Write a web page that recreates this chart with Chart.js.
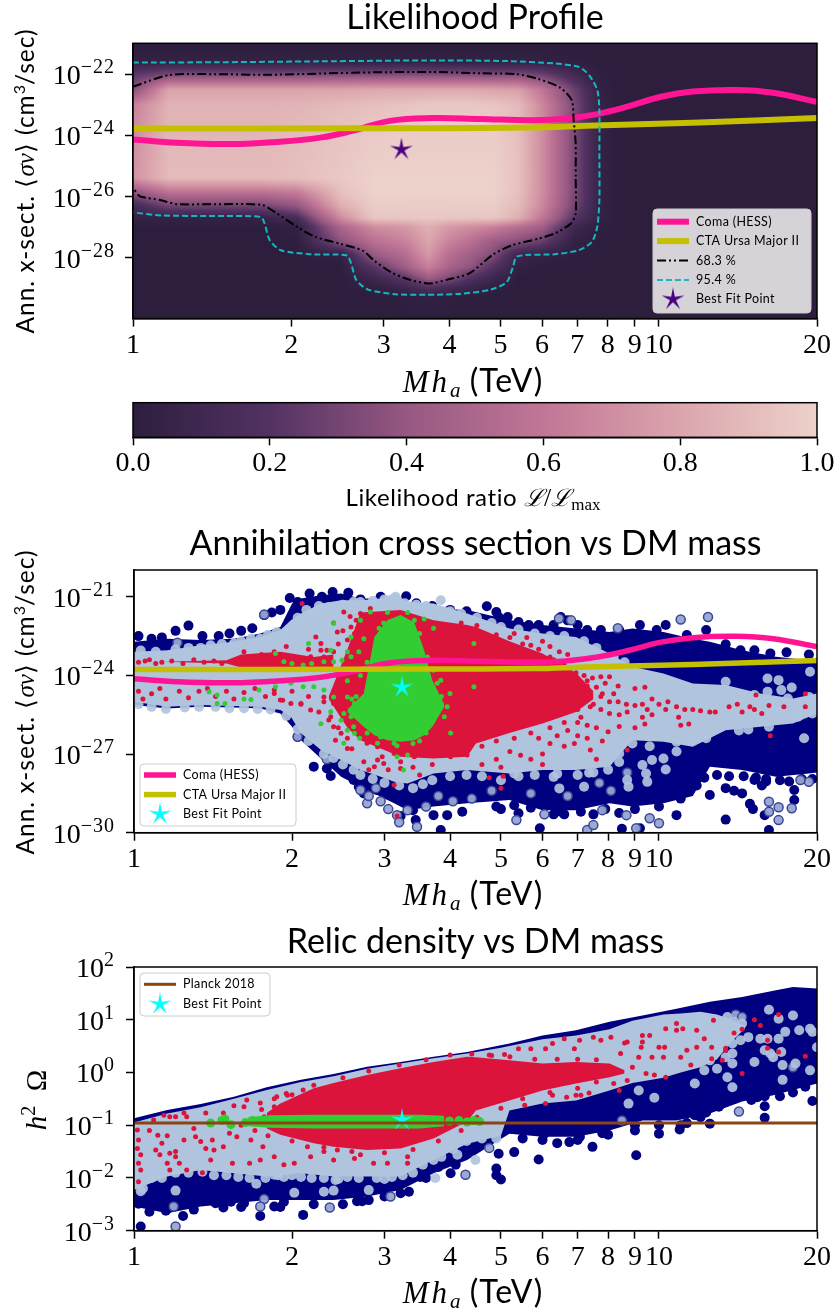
<!DOCTYPE html>
<html lang="en"><head>
<meta charset="UTF-8">
<title>Likelihood Profile</title>
<script src="https://cdn.jsdelivr.net/npm/chart.js"></script>
<style>
  html, body { margin: 0; padding: 0; background: #fff; }
  body { width: 835px; height: 1313px; position: relative; overflow: hidden; }
  canvas { position: absolute; left: 0; display: block; }
</style>
</head>
<body>
<canvas id="profile" width="835" height="402" style="top:0"></canvas>
<canvas id="colorbar" width="835" height="125" style="top:395px"></canvas>
<canvas id="sigma" width="835" height="400" style="top:520px"></canvas>
<canvas id="relic" width="835" height="393" style="top:920px"></canvas>

<script>
// ---- axes
const massTicks = [1, 2, 3, 4, 5, 6, 7, 8, 9, 10, 20];
const profileExpTicks = [-28, -26, -24, -22];
const sigmaExpTicks = [-30, -27, -24, -21];
const relicExpTicks = [-3, -2, -1, 0, 1, 2];
const colorbarTicks = [0, 0.2, 0.4, 0.6, 0.8, 1];

// ---- limit curves (mass in TeV, log10 of <sigma v>)
const comaMass = [1, 1.21, 1.53, 1.88, 2.27, 2.61, 3.08, 3.71, 4.57, 5.77, 6.64, 7.64, 8.78, 10.1, 11.6, 14, 16.5, 20];
const comaExp = [-24.13, -24.24, -24.28, -24.21, -24.07, -23.85, -23.52, -23.43, -23.46, -23.5, -23.45, -23.3, -23.04, -22.73, -22.56, -22.51, -22.6, -22.9];
const ctaMass = [1, 1.8, 3.62, 5.77, 7.29, 11.6, 20];
const ctaExp = [-23.77, -23.77, -23.76, -23.74, -23.68, -23.58, -23.43];
const bestMass = 3.24;
const bestExp = -24.46;
const bestRelic = -0.9;
const planckMass = [1, 20];
const planckRelic = [-0.956, -0.956];

// ---- confidence contours of the profile
const cl68Mass = [1, 1.17, 1.43, 1.8, 2.27, 2.87, 3.71, 4.57, 5.38, 5.91, 6.49, 6.83, 6.89, 6.95, 6.95, 6.95, 6.8, 6.34, 5.91, 5.26, 4.85, 4.36, 3.97, 3.66, 3.38, 3.11, 2.87, 2.74, 2.49, 2.22, 2.05, 1.88, 1.76, 1.43, 1.21, 1.13, 1.03, 1.005];
const cl68Exp = [-22.4, -22.02, -21.99, -22.01, -21.97, -21.93, -21.92, -21.96, -21.99, -22.15, -22.43, -22.84, -23.5, -24.26, -25.36, -26.56, -26.89, -27.21, -27.38, -27.6, -27.89, -28.52, -28.72, -28.85, -28.74, -28.5, -28.09, -27.78, -27.56, -27.32, -26.99, -26.56, -26.28, -26.25, -26.25, -26.12, -25.99, -25.77];
const cl95Mass = [1, 1.43, 2.27, 3.62, 5.14, 6.34, 7.04, 7.37, 7.64, 7.71, 7.71, 7.71, 7.64, 7.46, 7.04, 6.34, 5.38, 5.28, 5.14, 4.79, 4.17, 3.62, 3.15, 2.8, 2.66, 2.6, 2.55, 2.17, 1.91, 1.82, 1.78, 1.75, 1.43, 1.13, 1];
const cl95Exp = [-21.61, -21.6, -21.57, -21.54, -21.56, -21.64, -21.75, -22.02, -22.51, -23.17, -24.48, -26.12, -26.99, -27.49, -27.76, -27.89, -27.96, -28.31, -28.8, -29.05, -29.19, -29.22, -29.2, -29.05, -28.74, -28.2, -27.93, -27.89, -27.76, -27.43, -26.89, -26.67, -26.64, -26.62, -26.52];

// ---- likelihood table: one row per heatExp, one column per heatMass
const heatMass = [1, 1.17, 1.76, 2.05, 2.49, 2.87, 3.3, 3.65, 4, 4.4, 4.85, 5.4, 6, 6.9, 7.7, 8.3, 20];
const heatExp = [-30, -29.3, -29, -28.7, -28.3, -27.9, -27.5, -27, -26.7, -26.3, -25.9, -25.4, -24, -23, -22.5, -22, -21.6, -21.3, -21];
const likelihood = [
  [0, 0, 0, 0, 0, 0, 0, 0, 0, 0, 0, 0, 0, 0, 0, 0, 0],
  [0, 0, 0, 0, 0, 0, .01, .03, .01, 0, 0, 0, 0, 0, 0, 0, 0],
  [0, 0, 0, 0, 0, .02, .09, .18, .12, .07, .02, 0, 0, 0, 0, 0, 0],
  [0, 0, 0, 0, 0, .08, .22, .42, .32, .18, .08, 0, 0, 0, 0, 0, 0],
  [0, 0, 0, 0, 0, .22, .45, .65, .48, .38, .2, .03, 0, 0, 0, 0, 0],
  [0, 0, 0, 0, .04, .42, .55, .75, .55, .45, .34, .08, .05, .01, 0, 0, 0],
  [0, 0, 0, 0, .36, .55, .65, .8, .65, .55, .42, .34, .25, .03, 0, 0, 0],
  [0, 0, 0, .03, .5, .7, .75, .85, .75, .7, .65, .55, .45, .1, .01, 0, 0],
  [.04, .04, .05, .15, .7, .95, .95, .96, .95, .95, .95, .85, .6, .22, .04, 0, 0],
  [.12, .3, .3, .4, .85, .98, .98, .98, .98, .98, .98, .9, .68, .3, .05, 0, 0],
  [.36, .55, .55, .6, .92, 1, 1, 1, 1, 1, 1, .92, .7, .32, .05, 0, 0],
  [.72, .9, .9, .92, .96, 1, 1, 1, 1, 1, 1, .93, .7, .32, .05, 0, 0],
  [.7, .88, .88, .9, .94, .97, .98, .98, .98, .98, .98, .92, .7, .32, .05, 0, 0],
  [.65, .86, .86, .87, .9, .92, .94, .96, .96, .96, .95, .9, .68, .32, .05, 0, 0],
  [.35, .8, .8, .8, .8, .82, .82, .82, .82, .82, .8, .78, .6, .28, .04, 0, 0],
  [.22, .32, .32, .32, .33, .33, .33, .33, .33, .33, .32, .32, .28, .12, .01, 0, 0],
  [.05, .05, .05, .05, .05, .05, .05, .05, .05, .05, .05, .05, .04, .02, 0, 0, 0],
  [.01, .01, .01, .01, .01, .01, .01, .01, .01, .01, .01, .01, .01, 0, 0, 0, 0],
  [0, 0, 0, 0, 0, 0, 0, 0, 0, 0, 0, 0, 0, 0, 0, 0, 0]
];
const cmapStops = [0, 0.2, 0.4, 0.6, 0.8, 1];
const cmapColors = [[45, 30, 62], [82, 50, 98], [150, 88, 130], [193, 118, 150], [219, 165, 172], [237, 209, 203]];

// ---- cross section scatter: dense regions as envelopes, [mass, log10] for single dots
const navyMass2 = [1, 1.157, 1.34, 1.55, 1.74, 1.9, 2, 2.08, 2.27, 2.48, 2.7, 2.95, 3.13, 3.32, 3.72, 4.31, 5.19, 6, 6.95, 8.05, 8.9, 10.2, 11.6, 12.5, 14.4, 16.7, 19.3, 20];
const navyHi2 = [-22.72, -22.6, -22.65, -22.6, -22.4, -22.15, -21.26, -21.07, -20.94, -20.88, -21.07, -21.07, -20.94, -21.26, -21.45, -21.5, -21.89, -22.08, -22.21, -22.34, -22.21, -22.34, -22.6, -22.72, -23.04, -23.29, -23.42, -23.5];
const navyLo2 = [-25.13, -25.26, -25.2, -25.22, -25.26, -25.45, -25.96, -26.47, -27.17, -27.87, -28.25, -28.63, -28.88, -29.14, -29, -28.88, -28.75, -29.14, -29.14, -28.88, -29, -28.88, -28.6, -27.48, -27.61, -27.87, -27.74, -27.7];
const lightMass2 = [1, 1.157, 1.34, 1.55, 1.74, 1.9, 1.99, 2.08, 2.27, 2.48, 2.7, 2.95, 3.13, 3.32, 3.72, 4.31, 5.19, 6, 6.95, 8.05, 8.9, 10.2, 11.6, 13.4, 15.6, 18, 20];
const lightHi2 = [-23.1, -23.04, -22.85, -22.72, -22.53, -22.27, -21.9, -21.64, -21.26, -21.13, -21.13, -21.07, -20.88, -21.2, -21.26, -21.64, -22.21, -22.4, -22.53, -23.16, -23.67, -23.93, -24.31, -24.37, -24.69, -24.88, -24.69];
const lightLo2 = [-25, -25.2, -25.13, -25.17, -25.2, -25.32, -25.58, -26.21, -26.85, -27.23, -27.61, -27.87, -28.06, -28.12, -27.74, -27.61, -27.74, -27.61, -27.61, -27.48, -26.47, -26.53, -26.72, -26.09, -25.96, -25.83, -25.45];
const redMass2 = [2.35, 2.55, 2.7, 3.22, 3.72, 4.31, 4.48, 5.19, 6, 6.95, 7.5];
const redHi2 = [-24.8, -23, -21.6, -21.5, -21.9, -22.08, -22.15, -22.7, -23.16, -23.9, -24.6];
const redLo2 = [-24.9, -26, -26.47, -27.1, -27.17, -27.1, -26.6, -26.2, -25.83, -25.4, -24.9];
const wingMass2 = [1.14, 1.5, 1.6, 1.9, 2.2, 2.4];
const wingHi2 = [-23.48, -23.42, -23.2, -23.1, -23.3, -23.2];
const wingLo2 = [-23.48, -23.55, -23.7, -23.75, -23.75, -23.75];
const greenMass2 = [2.55, 2.74, 2.87, 3.04, 3.22, 3.42, 3.57, 3.7, 3.9];
const greenHi2 = [-25.3, -24.69, -22.53, -21.89, -21.7, -21.98, -23.04, -24.18, -25.1];
const greenLo2 = [-25.4, -25.96, -26.28, -26.47, -26.53, -26.47, -26.28, -25.96, -25.2];

const navyDots2 = [[1.02,-22.5],[1.08,-22.6],[1.13,-22.55],[1.2,-22.3],[1.27,-22.1],[1.35,-22.5],[1.45,-22.5],[1.52,-22.4],[1.6,-22.3],[1.68,-22.2],[1.77,-21.7],[1.83,-21.6],[1.9,-21.5],[1.98,-21.05],[2.05,-21.2],[2.16,-20.88],[2.28,-21],[2.39,-20.82],[2.56,-20.85],[2.7,-21.1],[2.95,-21],[3.3,-20.98],[3.45,-21.25],[3.7,-21.35],[4,-21.5],[4.3,-21.55],
  [4.7,-21.36],[4.9,-21.58],[5.15,-21.77],[4.95,-21.77],[5.4,-21.96],[5.65,-22.08],[5.9,-22.08],[6.3,-22.08],[6.5,-21.77],[6.7,-21.9],[7,-22.08],[7.3,-22.27],[7.75,-22.27],[8.4,-22.27],[9.2,-22.08],[9.9,-22.27],[10.3,-22.08],[11.3,-22.46],[12.3,-22.27],[13.4,-22.81],[14.3,-23.04],[15.2,-23.04],[16.3,-23.16],[17.5,-23.12],[19.3,-23.2],
  [2.05,-26.34],[2.2,-27.48],[2.33,-27.55],[2.37,-27.84],[2.59,-27.61],[2.62,-27.99],[2.68,-28.25],[2.74,-28.5],[2.87,-28.3],[2.9,-28.37],[3.22,-29.36],[3.32,-28.88],[3.4,-29.14],[3.44,-29.52],[3.84,-29.9],[3.72,-29.33],[3.95,-29.33],[4.22,-29.2],[4.9,-29],[5.3,-28.95],[5.4,-29.26],[5.7,-29.05],[5.93,-29.83],[6.3,-29.3],[6.6,-29.3],[7.1,-29.2],[7.5,-29.3],[7.9,-29.1],[8.4,-29.25],[8.5,-29.85],[10.8,-29.33],[12.5,-28.56],[13.4,-28.3],[13.9,-28.4],[14.4,-28.5],[14.9,-28.9],[15.2,-27.99],[15.7,-28.2],[16,-28.05],[18.1,-28.37],[18.1,-28.75],[15.1,-29.1],[15.9,-29.33],[13.4,-29.5],[16.2,-29.9],[9.2,-29.83],
  [11.8,-28.2],[12.2,-27.9],[12.9,-27.8],[13.6,-27.85],[14.5,-27.85],[15.3,-27.9],[16,-27.95],[17,-28],[17.7,-28.05],[18.7,-27.95],[19.6,-27.95],[11,-28.7],[10,-29],[9,-29.1],[6.5,-29.2],[5,-29.1]];
const lightDots2 = [[3.84,-21.13],[1.95,-22.4],[2.2,-21.7],[2.35,-21.4],[2.5,-21.3],[2.7,-21.2],[3.15,-21],[3,-21.1],[1.2,-23],[1.4,-22.85],[1.6,-22.7],[1.8,-22.45],
  [1.03,-23.05],[1.1,-23.1],[1.27,-22.95],[1.34,-22.95],[1.47,-22.8],[1.55,-22.78],[1.67,-22.6],[1.74,-22.6],[1.87,-22.35],[2.05,-21.8],[2.13,-21.5],[2.25,-21.35],[2.62,-21.2],[2.85,-21.15],[3.28,-21.25],[3.45,-21.3],[3.6,-21.35],[4,-21.55],[4.2,-21.65],[4.5,-21.8],[4.8,-22],[5,-22.15],[5.4,-22.25],[5.8,-22.4],[6.2,-22.5],[6.6,-22.5],[7.2,-22.7],[7.6,-22.95],[8.2,-23.3],[8.6,-23.5],
  [1.02,-25.1],[1.08,-25.2],[1.15,-25.28],[1.25,-25.22],[1.33,-25.2],[1.43,-25.2],[1.52,-25.25],[1.62,-25.25],[1.72,-25.28],[1.82,-25.3],[1.95,-25.55],[2.05,-26.05],[2.15,-26.5],[2.3,-27],[2.4,-27.15],[2.5,-27.4],[2.62,-27.6],[2.7,-27.8],[2.85,-27.95],[3,-28.1],[3.2,-28.2],[3.4,-28.3],[3.55,-28.15],[3.7,-28],[4,-27.85],[4.3,-27.8],[4.6,-27.85],[5,-28],[5.4,-27.85],[5.8,-27.8],[6.4,-27.75],[7,-27.8],[7.5,-27.7],[8,-27.6],[8.4,-27.3],
  [13.4,-24.24],[16.1,-24.12],[16.9,-24.18],[19.4,-23.86],[17.1,-24.56],[17.9,-24.46],[16.1,-24.62],[15.2,-24.75],[18.4,-25.58],[16.2,-25.96],[14.8,-26.06],[16.9,-25.39],[16.5,-25.06],[17.6,-24.88],[18.6,-25.13],[19.3,-24.82],[19.6,-25.45],[18.9,-26.4],[12.3,-26.4],[10.8,-26.53],[10.8,-26.9],[10.2,-27.17],[9.7,-27.23],[9.3,-27.42],[10.3,-27.59],[9.5,-28.06],[9.45,-27.74],[8.7,-27.99],[8.75,-28.25],[7.2,-28.25],[6.46,-28.31],[6.3,-27.87],[7.36,-27.71],[5.3,-27.74],[8.4,-26.98],[8.9,-26.6],[9.6,-26.7],[11.4,-26.4],[14.2,-26.1]];
const ringDots2 = [[1.21,-22.75],[1.77,-21.68],[2.05,-26.34],[2.29,-21.55],[6.8,-21.9],[6.45,-21.83],[8.35,-22.2],[11,-21.87],[12.4,-21.77],[8.7,-27.7],
  [9.6,-29.45],[10,-29.64],[9.05,-29.83],[6.05,-29.3],[5.35,-29.52],[8.67,-29.33],[7.3,-29.9],[7.5,-29.71],[7.8,-29.14],[19.3,-28.06],[18.6,-27.99],[16.2,-28.82],[16.2,-29.2],[16.9,-29.03],[16.9,-29.52],[17.9,-29.07],
  [2.33,-27.2],[2.7,-28.37],[2.78,-28.88],[2.8,-28.6],[2.89,-28.3],[2.95,-28.8],[3.05,-29.1],[3.17,-29.33],[3.2,-29.6],[3.32,-29.14],[3.46,-29.77],[3.6,-29],[3.8,-28.6],[4.05,-28.8],[4.4,-28.7],[4.8,-28.4],[5.7,-28.5],[6.7,-28.6],[7.7,-28.1],[8.1,-28.4]];
const redDots2 = [[1.02,-23.5],[1.05,-23.45],[1.1,-23.55],[1.07,-23.4],[1.13,-23.5],[1.18,-23.45],[1.24,-23.55],[1.3,-23.4],[1.36,-23.5],[1.42,-23.45],[1.47,-23.55],[1.62,-23.1],[1.75,-23.2],[1.85,-23.1],[1.95,-22.9],[2.09,-21.26],[2.51,-21.58],[2.59,-22.15],[2.63,-22.4],[2.44,-22.34],[2.27,-22.78],[2.22,-22.53],[2.33,-23.04],[2.55,-22.65],[2.78,-22.15],[2.7,-21.64],[2.82,-21.45],[2.17,-23.29],[2.27,-23.04],[2.4,-22],[2.5,-22.3],[2.45,-22.8],[2.6,-23],[2.3,-23.3],[2.15,-23],[2.4,-23.1],[2.65,-21.9],[2.58,-21.75],
  [1.02,-24.6],[1.04,-24.9],[1.08,-24.7],[1.12,-24.5],[1.15,-24.9],[1.22,-24.6],[1.27,-24.85],[1.33,-24.6],[1.38,-24.5],[1.43,-24.8],[1.5,-24.6],[1.55,-24.9],[1.62,-24.65],[1.7,-24.5],[1.78,-24.8],[1.85,-24.55],[1.92,-24.95],[2,-24.6],[2.08,-25.1],[2.15,-24.8],[2.25,-25.4],[2.3,-25],[2.35,-25.7],[2.45,-26],[2.55,-26.4],[2.6,-26.8],
  [2.3,-24.82],[2.4,-25.07],[2.51,-25.32],[2.59,-24.94],[2.66,-25.32],[2.7,-24.82],[2.4,-25.96],[2.37,-25.58],[2.48,-26.21],[2.63,-25.96],[2.17,-25.32],[2.08,-25.07],[1.99,-25.07],[1.9,-24.94],[1.85,-24.69],[2.5,-24.4],[2.6,-24.5],[2.55,-25.6],[2.7,-26.2],[2.6,-25.7],[2.66,-24.4],
  [2.42,-26.47],[2.55,-26.79],[2.91,-27.23],[2.99,-27.36],[2.74,-27.29],[2.87,-27.48],[2.97,-27.1],[3.13,-26.98],[3.22,-27.29],[3.42,-27.1],[3.57,-26.98],[3.13,-28.18],[3.17,-29.36],[3.72,-26.85],[4.01,-27.1],[4.31,-27.04],[3.22,-27.55],[2.91,-26.72],[2.78,-26.59],[3.4,-27.5],[3.7,-27.4],[2.8,-27.6],[3.05,-27.6],[3.5,-27.8],
  [4.2,-22.0],[4.5,-22.1],[4.9,-22.45],[5.2,-22.55],[5.5,-22.8],[5.9,-23],[6.3,-23.4],[6.6,-23.6],[7,-23.7],[7.3,-24.2],[4.6,-26.7],[4.9,-26.5],[5.3,-26.4],[5.7,-26.2],[6.2,-26],[6.6,-25.8],[7.1,-25.6],[7.5,-25.1],[7.8,-24.7],
  [6,-22.7],[6.2,-22.9],[6.46,-23.1],[6.2,-23.3],[6.7,-23.2],[5.6,-22.55],[5.3,-22.4],[5.7,-22.85],[6.95,-23.9],[7.2,-24],[7.47,-24.1],[7.75,-24.05],[6.7,-24.3],[7,-24.5],[7.3,-24.4],[7.6,-24.45],[7.9,-24.3],[8.05,-24.05],[8.36,-24.4],[8.2,-24.7],[7.75,-24.8],[7.4,-24.85],[7,-24.9],[6.7,-24.7],[8.05,-25],[8.36,-25],[8.67,-25.1],[9,-25.15],[9.3,-25.1],[9.5,-25.3],[8.7,-25.4],[8.4,-25.5],[8.05,-25.45],[7.75,-25.3],[7.4,-25.2],[7,-25.3],[9,-24.5],[9.4,-24.45],[9.7,-24.9],[10,-25.1],[10.4,-25],[10.8,-25.2],[11.2,-25.3],[11.6,-25.3],[12,-25.35],[12.5,-25.4],[10.3,-25.3],[9.7,-25.5],[9.3,-25.6],[9.4,-25.85],[11,-25.9],[11.4,-25.85],[10.9,-25.6],
  [7,-25.8],[7.3,-25.9],[7.6,-26],[8,-26.15],[8.4,-25.95],[7,-26.3],[7.3,-26.4],[6.7,-26.1],[6.4,-26.3],[6.2,-26.6],[5.9,-26.4],[6.6,-26.7],[6.9,-26.6],[7.4,-26.85],[7.6,-27.2],[7.8,-26.5],[8.7,-26.85],[9,-26],[6,-27],[5.7,-27.2],[5.2,-26.9],[5.45,-27.05],[4.9,-27.2],[4.6,-27.4],[5,-27.5],[4.75,-27.9],[5.05,-27.85],[6,-27.4],[5,-28.3],
  [12.8,-25.4],[13.6,-25.2],[14.1,-25.1],[14.4,-25.4],[14.9,-25.2],[15.2,-25.3],[15.7,-25.45],[16.2,-25.15],[17.3,-25.2],[15.3,-24.75],[19,-24.7],[19,-25.2],[16.3,-26.3]];
const greenDots2 = [[1.39,-24.62],[1.44,-24.75],[1.44,-25.07],[1.49,-25.07],[1.62,-24.9],[1.67,-24.92],[1.73,-24.56],[1.86,-24.43],[1.99,-24.3],[2.1,-24.43],[2.2,-24.43],[2.3,-24.56],[2.4,-24.82],[2.55,-24.82],[2.63,-25.07],[2.51,-25.45],[2.37,-25.39],[2.27,-25.84],[2.48,-25.71],[2.59,-25.58],[2.63,-26.21],[2.55,-26.09],[2.69,-26.4],[2.51,-26.59],[2.91,-26.59],[3.13,-26.59],[3.32,-27.04],[3.17,-27.1],[3.26,-27.61],[3.72,-25.1],[4.01,-26.2],[4.44,-24.43],[4.44,-22.78],[3.84,-24.18],[4,-24.69],[3.72,-22.2],[3.78,-25.07],[3.9,-25.58],[3.72,-25.71],[3.6,-26.2],[3.57,-21.85],[3.32,-21.6],[3.04,-21.6],
  [1.86,-23.16],[2.15,-22.78],[2.4,-22],[2.37,-23.04],[2.55,-23.1],[1.93,-23.48],[2,-23.55],[2.1,-23.6],[2.18,-23.55],[2.3,-23.48],[2.4,-23.48],[2.49,-23.42],[2.59,-23.29],[2.68,-23.1],[2.74,-22.6],[2.82,-21.58],[2.7,-21.9],[2.59,-22.53],[2.55,-24.2],
  [2.68,-25.45],[2.62,-25.96],[2.8,-24.3],[2.85,-23.6],[2.89,-23.04],[2.93,-22.2],[2.99,-22],[3.17,-21.9],[3.42,-21.9],[3.5,-22.4],[3.62,-23.3],[3.72,-23.8],[3.78,-24.3],[3.7,-25.5],[3.5,-26.5],[2.95,-26.35],[2.78,-26.2],[2.74,-25.1],[3.4,-26.6],[3.17,-26.68],
  [2.78,-23.5],[2.82,-24.9],[2.7,-24],[2.65,-24.8],[2.6,-24.9],[2.75,-25.7],[3.65,-25.9],[3.85,-24.8],[3.95,-25.2],[3.8,-25.3]];

// ---- relic density scatter, [mass, log10] for single dots
const navyMass3 = [1, 1.157, 1.34, 1.55, 1.79, 2.08, 2.4, 2.78, 3.22, 3.72, 4.31, 5.19, 6, 6.95, 8.05, 9.3, 10.8, 12.5, 14.4, 16.7, 18, 20];
const navyHi3 = [-0.87, -0.71, -0.6, -0.46, -0.28, -0.14, -0.03, 0.11, 0.2, 0.3, 0.39, 0.55, 0.7, 0.8, 0.96, 1.08, 1.21, 1.34, 1.43, 1.56, 1.62, 1.59];
const navyLo3 = [-2.54, -2.67, -2.54, -2.48, -2.42, -2.42, -2.42, -2.35, -2.23, -1.91, -1.66, -1.16, -1.22, -1.22, -1.1, -0.91, -0.91, -0.78, -0.55, -0.42, -0.33, -0.21];
const lightMass3 = [1, 1.157, 1.34, 1.55, 1.79, 2.08, 2.4, 2.78, 3.22, 3.72, 4.31, 5, 5.19, 6, 6.95, 8.05, 8.9, 10.2, 11, 12, 12.9, 13.8, 14.6];
const lightHi3 = [-0.95, -0.78, -0.66, -0.5, -0.33, -0.18, -0.07, 0.07, 0.17, 0.27, 0.36, 0.47, 0.5, 0.63, 0.7, 0.82, 0.98, 1.1, 1.12, 1.15, 1.1, 1, 0.88];
const lightLo3 = [-2.23, -1.97, -1.85, -1.91, -1.97, -1.91, -1.97, -1.97, -1.97, -1.66, -1.35, -1.2, -0.72, -0.59, -0.53, -0.34, -0.2, -0.1, 0, 0.1, 0.25, 0.6, 0.84];
const redMass3 = [1.79, 1.9, 2.2, 2.4, 2.78, 3.22, 3.72, 4.31, 4.48, 5.19, 6, 6.95, 8.05, 8.6];
const redHi3 = [-0.77, -0.59, -0.3, -0.2, -0.05, 0.08, 0.2, 0.3, 0.29, 0.23, 0.17, 0.2, 0.17, 0.04];
const redLo3 = [-1.06, -1.18, -1.34, -1.41, -1.47, -1.44, -1.25, -0.93, -0.72, -0.53, -0.34, -0.21, -0.09, -0.02];
const greenMass3 = [1.65, 1.8, 2.2, 3, 3.5, 3.9];
const greenHi3 = [-0.85, -0.81, -0.8, -0.8, -0.8, -0.82];
const greenLo3 = [-1.02, -1.05, -1.06, -1.06, -1.06, -1.02];

const navyDots3 = [[1.03,-2.92],[1.24,-2.72],[1.15,-2.62],[1.02,-2.49],[1.07,-2.64],[1.08,-2.42],[1.35,-2.42],[1.43,-2.48],[1.48,-2.56],[1.53,-2.45],[1.62,-2.48],[1.74,-2.72],[1.85,-2.54],[1.93,-2.45],[2.1,-2.7],[2.66,-2.44],[2.72,-2.44],[3.34,-2.26],[3.22,-2.29],[3.51,-1.98],[4.01,-1.91],[3.8,-1.79],
  [4.95,-1.54],[5.3,-1.51],[5.9,-1.65],[4.9,-1.82],[4.9,-1.95],[5,-2.03],[6.05,-1.16],[6.4,-1.34],[6.75,-1.32],[7.07,-1.22],[7.47,-1.41],[7.8,-1.15],[9,-1.1],[10,-1.16],[10.95,-1.08],[11.3,-0.96],[11.7,-0.81],[12.3,-0.76],[12.5,-0.97],[9.05,-1.57],[12.9,-0.53],[13.1,-0.56],[13.9,-0.5],[15.4,-0.47],[15.9,-0.45],[15.9,-0.64],[15.9,-0.86],[19.6,-0.54],
  [1.3,-2.6],[1.6,-2.55],[1.9,-2.55],[2.2,-2.5],[2.5,-2.5],[2.8,-2.42],[3,-2.35],[3.6,-2.0],[4.1,-1.75],[4.5,-1.35],[6,-1.28],[7,-1.28],[8,-1.18],[9,-1],[10,-1],[11,-1],[12,-0.85],[13,-0.65],[15,-0.52],[17,-0.45],[18,-0.38],[19,-0.27],[4.7,-1.2],[5.5,-1.25]];
const lightDots3 = [[1.04,-2.2],[1.2,-2.24],[1.71,-2.11],[2.02,-2.28],[2.3,-2.26],[2.4,-2.24],[2.42,-2.04],[2.8,-2.23],[1.93,-1.98],[1.85,-1.94],[3.72,-1.66],[4.13,-1.56],[4.47,-1.66],[3.75,-2],
  [1.03,-2.25],[1.08,-2],[1.13,-2],[1.2,-1.9],[1.27,-1.9],[1.35,-1.88],[1.42,-1.95],[1.5,-1.95],[1.58,-1.98],[1.66,-2],[1.78,-2],[1.88,-1.95],[2,-1.95],[2.08,-1.98],[2.18,-2],[2.3,-2],[2.45,-2.02],[2.55,-1.98],[2.68,-2],[2.9,-2],[3,-2.02],[3.1,-1.98],[3.25,-1.95],[3.4,-1.9],[3.55,-1.75],[3.85,-1.6],[4.05,-1.45],[4.3,-1.3],[4.6,-1.25],[4.9,-1.25],
  [11.8,0.99],[12.3,1.02],[13.5,1.05],[13.9,0.96],[14.4,0.93],[14.8,0.67],[13.8,0.55],[14.3,0.61],[13.4,0.29],[13.8,0.36],[13.8,0.17],[12.9,0.07],[13.5,-0.09],[13.8,-0.28],[11.7,-0.21],[9.8,-0.48],[8.75,-0.59],[9.15,-0.34],[16.2,1.19],[16.9,1.02],[18,1.08],[17.4,0.77],[18.5,0.8],[19.4,0.83],[19.6,0.77],[20,0.48],[15.6,0.64],[16.1,0.64],[16.9,0.64],[15.9,0.42],[16.3,0.36],[17.1,0.39],[15.2,0.2],[17.2,0.14],[18.2,0.17],[19.4,0.04],[17.2,-0.14],[16.5,0.29],[12.1,0.86],[11.6,0.74],[12.3,0.48],[12.9,0.42],[12.5,0.23],[12.2,0.04],[12.9,0.61],[10.6,0.8],[10.2,0.93]];
const ringDots3 = [[1.2,-2.92],[1.19,-2.54],[1.77,-2.4],[1.74,-2.54],[2.36,-2.56],[3.08,-2.35],[4.28,-1.94],[4.75,-1.43],[14.2,-0.74],[8.5,-0.91],[14,1.1],[14.4,1.05],[18,0.1]];
const redDots3 = [[1.015,-1.09],[1.07,-1.1],[1.11,-1.19],[1.157,-1.2],[1.02,-1.28],[1.015,-1.44],[1.03,-1.56],[1.02,-1.72],[1.03,-1.85],[1.02,-2.07],[1.13,-1.34],[1.1,-1.47],[1.12,-1.56],[1.17,-1.53],[1.2,-1.6],[1.157,-1.72],[1.22,-1.72],[1.17,-1.85],[1.26,-1.85],[1.35,-1.9],[1.2,-1.5],[1.245,-1.28],[1.31,-1.22],[1.34,-1.31],[1.37,-1.44],[1.42,-1.47],[1.41,-1.28],[1.48,-1.41],[1.54,-1.72],[1.4,-1.66],[1.74,-1.66],[1.66,-1.72],[1.52,-1.15],[1.57,-1.22],[1.67,-1.28],[1.76,-1.41],[1.85,-1.6],[2.02,-1.72],[2.17,-1.6],[1.93,-1.75],[2.4,-1.66],[2.63,-1.63],[2.7,-1.56],[2.86,-1.72],[3.04,-1.72],[3.32,-1.72],[2.3,-1.5],[2.14,-1.41],[2.44,-1.47],[3.32,-1.6],
  [1.14,-0.81],[1.2,-0.84],[1.245,-0.77],[1.3,-1.06],[1.37,-0.77],[1.55,-0.63],[1.64,-0.52],[1.62,-0.65],[1.74,-0.58],[1.87,-0.46],[1.96,-0.43],[2.02,-0.55],[1.85,-0.65],[2.1,-0.33],[1.77,-0.84],[1.26,-0.84],[1.09,-0.9],[1.17,-0.84],[1.48,-0.77],
  [2,-0.42],[2.2,-0.24],[2.5,-0.1],[2.8,0.03],[3.2,0.14],[3.6,0.24],[4,0.33],[4.4,0.35],[4.8,0.32],[5.2,0.3],[5.8,0.25],[6.4,0.25],[7,0.25],[7.6,0.24],[2,-1.3],[2.3,-1.42],[2.6,-1.5],[3,-1.52],[3.4,-1.46],[3.8,-1.3],[4.2,-1.1],[4.5,-0.85],[5,-0.68],[5.5,-0.5],[6.2,-0.38],[7,-0.3],[7.6,-0.18],[1.6,-1],[1.7,-1.1],[1.8,-1.2],[1.75,-0.7],[1.85,-0.5],[1.95,-0.4],
  [4.75,0.33],[5.08,0.34],[5.4,0.45],[5.7,0.45],[6.08,0.45],[6.27,0.55],[6.6,0.64],[6.9,0.45],[7.5,0.67],[7.06,0.61],[7.75,0.61],[8.1,0.67],[8.6,0.56],[8.7,0.58],[8.45,0.36],[9.3,0.7],[9.6,0.7],[9.3,0.58],[9.25,0.48],[10,0.48],[10.25,0.48],[10.8,0.8],[10.3,0.83],[10.8,0.93],[11.1,0.83],[11.8,0.8],[12.2,0.64],[11.8,0.48],[11.3,0.42],[12.6,0.48],[12.7,0.99],[13.2,0.23],[13.4,0.42],[13.9,0.75],[14.4,0.82],[15.2,1],[15.6,0.89],[16.9,1.1],[16.1,0.46],[16.9,0.39],[16.1,0.61],[19,0.31],[14.4,-0.02],[13.4,0.46],[12.6,0.26],[11,0.29],[11.5,0.14],[10.2,0.29],[9.8,-0.05],[10.3,-0.09],[9.45,-0.02],[8.9,0.1],[9.15,0.29],[9.7,0.29],[8.7,-0.15],[8.2,-0.21],[7.36,-0.39],[8.4,-0.34],[6.95,-0.43],[6.67,-0.47],[6.08,-0.59],[5.55,-0.62],[6.27,-0.43],[7.1,-0.43]];
const greenDots3 = [[1.4,-0.96],[1.47,-0.91],[1.49,-0.88],[1.53,-0.99],[1.63,-0.95],[1.68,-0.91],[1.77,-0.91],[1.85,-0.91],[3.99,-0.92],[4.16,-0.91],[4.31,-0.94],[4.44,-0.91],[4.55,-0.93]];

// ---- legends
const legendLabels1 = ['Coma (HESS)', 'CTA Ursa Major II', '68.3 %', '95.4 %', 'Best Fit Point'];
const legendLabels2 = ['Coma (HESS)', 'CTA Ursa Major II', 'Best Fit Point'];
const legendLabels3 = ['Planck 2018', 'Best Fit Point'];

const NAVY = '#000080', LIGHT = 'rgba(176,196,222,0.92)', CRIMSON = '#dc143c', LIME = '#32cd32';
const PINK = '#ff1493', OLIVE = '#c4bf00', BROWN = '#8b4513', BEST1 = '#4b0082', BEST2 = '#00ffff', TEAL = '#14b8c0';
const SANS = 'Lato', SERIF = '"Liberation Serif"';

function starCanvas(color, size) {
  const c = document.createElement('canvas');
  c.width = c.height = size;
  const g = c.getContext('2d');
  g.fillStyle = color;
  g.beginPath();
  for (let i = 0; i < 10; i++) {
    const r = (i % 2 ? 0.13 : 0.5) * size;
    const a = -Math.PI / 2 + i * Math.PI / 5;
    g.lineTo(size / 2 + r * Math.cos(a), size / 2 + r * Math.sin(a));
  }
  g.closePath();
  g.fill();
  return c;
}

const toXY = (masses, exps) => masses.map((m, i) => ({ x: m, y: Math.pow(10, exps[i]) }));
const dotsXY = list => list.map(p => ({ x: p[0], y: Math.pow(10, p[1]) }));

let drawOrder = 1000;
function band(masses, hi, lo, color) {
  return [
    { data: toXY(masses, hi), showLine: true, fill: '+1', backgroundColor: color, borderWidth: 0, borderColor: color, pointRadius: 0, order: drawOrder-- },
    { data: toXY(masses, lo), showLine: true, fill: false, borderWidth: 0, borderColor: color, pointRadius: 0, order: drawOrder-- }
  ];
}
function dots(list, color, radius, ring) {
  return { data: dotsXY(list), backgroundColor: color, pointRadius: radius, pointBorderWidth: ring ? 1.5 : 0, pointBorderColor: ring || color, order: drawOrder-- };
}
function curve(label, masses, exps, color, width, dash, tension) {
  return { label, data: toXY(masses, exps), showLine: true, borderColor: color, borderWidth: width, borderDash: dash || [], tension: tension, pointRadius: 0, fill: false, order: drawOrder-- };
}
function bestFit(label, mass, exp, color) {
  return { label, data: toXY([mass], [exp]), pointStyle: starCanvas(color, 24), pointRadius: 12, order: drawOrder-- };
}

// heat map cells, looked up through the chart's own scales
function bracket(nodes, v) {
  let i = 0;
  while (i < nodes.length - 2 && v > nodes[i + 1]) i++;
  return [i, Math.min(1, Math.max(0, (v - nodes[i]) / (nodes[i + 1] - nodes[i])))];
}
function cmap(v) {
  const [i, t] = bracket(cmapStops, v);
  return cmapColors[i].map((c, k) => c + (cmapColors[i + 1][k] - c) * t);
}
const heatmapPlugin = {
  id: 'heatmap',
  beforeDatasetsDraw(chart) {
    const { ctx, chartArea: a, scales: { x, y } } = chart;
    const w = Math.round(a.width), h = Math.round(a.height);
    const off = document.createElement('canvas');
    off.width = w; off.height = h;
    const g = off.getContext('2d');
    const img = g.createImageData(w, h);
    const logNodes = heatMass.map(Math.log10);
    const cols = [];
    for (let i = 0; i < w; i++) cols.push(bracket(logNodes, Math.log10(x.getValueForPixel(a.left + i + 0.5))));
    for (let j = 0; j < h; j++) {
      const [r, u] = bracket(heatExp, Math.log10(y.getValueForPixel(a.top + j + 0.5)));
      for (let i = 0; i < w; i++) {
        const [c, t] = cols[i];
        const v = (likelihood[r][c] * (1 - t) + likelihood[r][c + 1] * t) * (1 - u) +
                  (likelihood[r + 1][c] * (1 - t) + likelihood[r + 1][c + 1] * t) * u;
        const rgb = cmap(v), o = (j * w + i) * 4;
        img.data[o] = rgb[0]; img.data[o + 1] = rgb[1]; img.data[o + 2] = rgb[2]; img.data[o + 3] = 255;
      }
    }
    g.putImageData(img, 0, 0);
    ctx.drawImage(off, a.left, a.top);
  }
};
const colorbarPlugin = {
  id: 'colorbarFill',
  beforeDatasetsDraw(chart) {
    const { ctx, chartArea: a, scales: { x } } = chart;
    for (let px = Math.floor(a.left); px < a.right; px++) {
      const rgb = cmap(Math.min(1, Math.max(0, x.getValueForPixel(px + 0.5))));
      ctx.fillStyle = `rgb(${Math.round(rgb[0])},${Math.round(rgb[1])},${Math.round(rgb[2])})`;
      ctx.fillRect(px, a.top, 1, a.height);
    }
  }
};
const framePlugin = {
  id: 'frame',
  afterDatasetsDraw(chart) {
    const { ctx, chartArea: a } = chart;
    ctx.save();
    ctx.strokeStyle = '#000';
    ctx.lineWidth = 1.5;
    ctx.strokeRect(a.left, a.top, a.width, a.height);
    ctx.restore();
  }
};

// mixed font text for axis labels, which the scale title cannot do
function drawRuns(ctx, runs, cx, cy, rotated) {
  ctx.save();
  ctx.translate(cx, cy);
  if (rotated) ctx.rotate(-Math.PI / 2);
  ctx.textBaseline = 'alphabetic';
  ctx.textAlign = 'left';
  ctx.fillStyle = '#000';
  let total = 0;
  runs.forEach(r => { ctx.font = r.font; ctx.letterSpacing = r.spacing || '0px'; total += ctx.measureText(r.text).width; });
  let x = -total / 2;
  runs.forEach(r => {
    ctx.font = r.font;
    ctx.letterSpacing = r.spacing || '0px';
    ctx.fillText(r.text, x, r.dy || 0);
    x += ctx.measureText(r.text).width;
  });
  ctx.restore();
}
const labelsPlugin = {
  id: 'mathLabels',
  afterDraw(chart, args, opts) {
    (opts.items || []).forEach(it => drawRuns(chart.ctx, it.runs, it.x, it.y, it.rotated));
  }
};
// power of ten labels with a raised exponent at the scale's own tick positions
const powerTicksPlugin = {
  id: 'powerTicks',
  afterDraw(chart) {
    const { ctx, scales: { y } } = chart;
    if (y.type !== 'logarithmic') return;
    ctx.save();
    ctx.fillStyle = '#000';
    ctx.textBaseline = 'alphabetic';
    ctx.textAlign = 'right';
    y.ticks.forEach(t => {
      const py = y.getPixelForValue(t.value);
      const exp = String(Math.round(Math.log10(t.value))).replace('-', '\u2212');
      ctx.font = '20px ' + SERIF;
      ctx.letterSpacing = '1px';
      const right = 115;
      ctx.fillText(exp, right, py - 1);
      const expWidth = ctx.measureText(exp).width;
      ctx.font = '28px ' + SERIF;
      ctx.letterSpacing = '0px';
      ctx.fillText('10', right - expWidth, py + 10);
    });
    ctx.restore();
  }
};
const legendPlugin = {
  id: 'plotLegend',
  afterDraw(chart, args, opts) {
    if (!opts.rect) return;
    const ctx = chart.ctx;
    const [x, y, w, h] = opts.rect;
    ctx.save();
    ctx.beginPath();
    ctx.roundRect(x, y, w, h, 4);
    ctx.fillStyle = opts.background;
    ctx.fill();
    ctx.strokeStyle = '#ccc';
    ctx.lineWidth = 1;
    ctx.stroke();
    ctx.font = '12.5px ' + SANS;
    ctx.letterSpacing = '0.35px';
    ctx.textBaseline = 'middle';
    opts.rows.forEach((row, i) => {
      const ry = opts.firstRow + i * opts.rowStep;
      if (row.star) {
        ctx.drawImage(row.star, x + 20 - 12, ry - 12, 24, 24);
      } else {
        ctx.strokeStyle = row.color;
        ctx.lineWidth = row.width;
        ctx.setLineDash(row.dash || []);
        ctx.beginPath();
        ctx.moveTo(x + 4, ry);
        ctx.lineTo(x + 36, ry);
        ctx.stroke();
        ctx.setLineDash([]);
      }
      ctx.fillStyle = '#000';
      ctx.fillText(row.label, x + 43, ry);
    });
    ctx.restore();
  }
};

function logOptions(cfg) {
  return {
    responsive: false,
    animation: false,
    events: [],
    layout: { padding: { left: 0, right: 18, top: 0, bottom: 0 } },
    plugins: {
      legend: { display: false },
      tooltip: { enabled: false },
      title: {
        display: true, text: cfg.title, fullSize: false, color: '#000',
        font: { family: SANS, size: 34, weight: 'normal', lineHeight: 36 / 34 },
        padding: { top: cfg.titleTop, bottom: cfg.titleBottom }
      },
      plotLegend: cfg.legend,
      mathLabels: { items: cfg.labels }
    },
    scales: {
      x: {
        type: 'logarithmic', min: 1, max: 20,
        afterBuildTicks: s => { s.ticks = massTicks.map(v => ({ value: v })); },
        afterFit: s => { s.height = cfg.canvasHeight - cfg.plotBottom; s.paddingLeft = 0; s.paddingRight = 0; },
        grid: { drawOnChartArea: false, tickLength: 8, tickColor: '#000', tickWidth: 1.5 },
        border: { color: '#000', width: 1.5 },
        ticks: {
          autoSkip: false, maxRotation: 0, minRotation: 0, padding: 2, color: '#000',
          font: { family: SERIF, size: 28 }, callback: v => String(v)
        }
      },
      y: {
        type: 'logarithmic', min: cfg.yMin, max: cfg.yMax,
        afterBuildTicks: s => { s.ticks = cfg.yTicks.map(e => ({ value: Math.pow(10, e) })); },
        afterFit: s => { s.width = cfg.axisWidth; },
        grid: { drawOnChartArea: false, tickLength: 8, tickColor: '#000', tickWidth: 1.5 },
        border: { color: '#000', width: 1.5 },
        ticks: { display: false }
      }
    }
  };
}

const sigmaLabelRuns = [
  { text: 'Ann. x-sect. \u27E8', font: '24.5px ' + SANS, spacing: '1px' },
  { text: '\u03C3v', font: 'italic 25px ' + SERIF },
  { text: '\u27E9 (cm', font: '24.5px ' + SANS, spacing: '1px' },
  { text: '3', font: '16px ' + SANS, dy: -9 },
  { text: '/sec)', font: '24.5px ' + SANS, spacing: '1px' }
];
const massLabelRuns = [
  { text: 'Mh', font: 'italic 31px ' + SERIF, spacing: '3px' },
  { text: 'a', font: 'italic 21px ' + SERIF, dy: 5 },
  { text: ' (TeV)', font: '32px ' + SANS, spacing: '1px' }
];

// ---- top panel
drawOrder = 1000;
new Chart(document.getElementById('profile'), {
  type: 'scatter',
  data: { datasets: [
    curve('Coma (HESS)', comaMass, comaExp, PINK, 6, null, 0.4),
    curve('CTA Ursa Major II', ctaMass, ctaExp, OLIVE, 6, null, 0.3),
    curve('68.3 %', cl68Mass, cl68Exp, '#000', 2, [9, 3, 2, 3, 2, 3], 0.25),
    curve('95.4 %', cl95Mass, cl95Exp, TEAL, 2, [6, 3], 0.25),
    bestFit('Best Fit Point', bestMass, bestExp, BEST1)
  ] },
  options: logOptions({
    title: 'Likelihood Profile', titleTop: 0, titleBottom: 7.3,
    canvasHeight: 402, plotBottom: 318.6, axisWidth: 133,
    yMin: 1e-30, yMax: 1.05e-21, yTicks: profileExpTicks,
    legend: {
      rect: [653, 209, 158, 104], background: 'rgba(255,255,255,0.8)', firstRow: 221.7, rowStep: 19.4,
      rows: [
        { label: legendLabels1[0], color: PINK, width: 6 },
        { label: legendLabels1[1], color: OLIVE, width: 6 },
        { label: legendLabels1[2], color: '#000', width: 2, dash: [9, 3, 2, 3, 2, 3] },
        { label: legendLabels1[3], color: TEAL, width: 2, dash: [6, 3] },
        { label: legendLabels1[4], star: starCanvas(BEST1, 24) }
      ]
    },
    labels: [
      { runs: sigmaLabelRuns, x: 34, y: 181, rotated: true },
      { runs: massLabelRuns, x: 473, y: 392 }
    ]
  }),
  plugins: [heatmapPlugin, framePlugin, labelsPlugin, legendPlugin, powerTicksPlugin]
});

// ---- colour bar
new Chart(document.getElementById('colorbar'), {
  type: 'scatter',
  data: { datasets: [] },
  options: {
    responsive: false, animation: false, events: [],
    layout: { padding: { left: 0, right: 18, top: 7.7, bottom: 0 } },
    plugins: {
      legend: { display: false }, tooltip: { enabled: false },
      mathLabels: { items: [{ x: 473, y: 111, runs: [
        { text: 'Likelihood ratio ', font: '24px ' + SANS, spacing: '0.6px' },
        { text: '\u2112', font: 'italic 24px "DejaVu Serif"' },
        { text: '/', font: '26px ' + SERIF },
        { text: '\u2112', font: 'italic 24px "DejaVu Serif"' },
        { text: 'max', font: '17px ' + SERIF, dy: 4 }
      ] }] }
    },
    scales: {
      x: {
        type: 'linear', min: 0, max: 1,
        afterBuildTicks: s => { s.ticks = colorbarTicks.map(v => ({ value: v })); },
        afterFit: s => { s.height = 125 - 42.3; s.paddingLeft = 0; s.paddingRight = 0; },
        grid: { drawOnChartArea: false, tickLength: 8, tickColor: '#000', tickWidth: 1.5 },
        border: { color: '#000', width: 1.5 },
        ticks: { autoSkip: false, maxRotation: 0, padding: 2, color: '#000', font: { family: SERIF, size: 28 }, callback: v => v.toFixed(1) }
      },
      y: { display: true, min: 0, max: 1, afterFit: s => { s.width = 133; },
        grid: { display: false }, border: { display: false }, ticks: { display: false } }
    }
  },
  plugins: [colorbarPlugin, framePlugin, labelsPlugin]
});

// ---- cross section panel
drawOrder = 1000;
new Chart(document.getElementById('sigma'), {
  type: 'scatter',
  data: { datasets: [
    ...band(navyMass2, navyHi2, navyLo2, NAVY),
    dots(navyDots2, NAVY, 5),
    dots(ringDots2, 'rgba(150,165,210,0.95)', 4.5, '#3a4596'),
    ...band(lightMass2, lightHi2, lightLo2, '#b0c4de'),
    dots(lightDots2, LIGHT, 5),
    ...band(redMass2, redHi2, redLo2, CRIMSON),
    ...band(wingMass2, wingHi2, wingLo2, CRIMSON),
    dots(redDots2, CRIMSON, 2.5),
    ...band(greenMass2, greenHi2, greenLo2, LIME),
    dots(greenDots2, LIME, 2.5),
    curve('Coma (HESS)', comaMass, comaExp, PINK, 5.5, null, 0.4),
    curve('CTA Ursa Major II', ctaMass, ctaExp, OLIVE, 5.5, null, 0.3),
    bestFit('Best Fit Point', bestMass, bestExp, BEST2)
  ] },
  options: logOptions({
    title: 'Annihilation cross section vs DM mass', titleTop: 6, titleBottom: 8,
    canvasHeight: 400, plotBottom: 312.7, axisWidth: 134,
    yMin: 1e-30, yMax: 1.05e-20, yTicks: sigmaExpTicks,
    legend: {
      rect: [140, 244, 156, 62], background: 'rgba(255,255,255,0.88)', firstRow: 255, rowStep: 19.6,
      rows: [
        { label: legendLabels2[0], color: PINK, width: 5.5 },
        { label: legendLabels2[1], color: OLIVE, width: 5.5 },
        { label: legendLabels2[2], star: starCanvas(BEST2, 24) }
      ]
    },
    labels: [
      { runs: sigmaLabelRuns, x: 34, y: 182, rotated: true },
      { runs: massLabelRuns, x: 473, y: 385 }
    ]
  }),
  plugins: [framePlugin, labelsPlugin, legendPlugin, powerTicksPlugin]
});

// ---- relic density panel
drawOrder = 1000;
new Chart(document.getElementById('relic'), {
  type: 'scatter',
  data: { datasets: [
    ...band(navyMass3, navyHi3, navyLo3, NAVY),
    dots(navyDots3, NAVY, 5),
    dots(ringDots3, 'rgba(150,165,210,0.95)', 4.5, '#3a4596'),
    ...band(lightMass3, lightHi3, lightLo3, '#b0c4de'),
    dots(lightDots3, LIGHT, 5),
    ...band(redMass3, redHi3, redLo3, CRIMSON),
    dots(redDots3, CRIMSON, 2.5),
    ...band(greenMass3, greenHi3, greenLo3, LIME),
    dots(greenDots3, LIME, 4.5),
    bestFit('Best Fit Point', bestMass, bestRelic, BEST2),
    curve('Planck 2018', planckMass, planckRelic, BROWN, 3, null, 0)
  ] },
  options: logOptions({
    title: 'Relic density vs DM mass', titleTop: 4, titleBottom: 7,
    canvasHeight: 393, plotBottom: 310.7, axisWidth: 134,
    yMin: 1e-3, yMax: 100, yTicks: relicExpTicks,
    legend: {
      rect: [140, 53, 130, 43], background: 'rgba(255,255,255,0.88)', firstRow: 64.3, rowStep: 20,
      rows: [
        { label: legendLabels3[0], color: BROWN, width: 3 },
        { label: legendLabels3[1], star: starCanvas(BEST2, 24) }
      ]
    },
    labels: [
      { x: 46, y: 180, rotated: true, runs: [
        { text: 'h', font: 'italic 29px ' + SERIF },
        { text: '2', font: '20px ' + SERIF, dy: -11 },
        { text: '  \u03A9', font: '29px ' + SERIF }
      ] },
      { runs: massLabelRuns, x: 473, y: 383 }
    ]
  }),
  plugins: [framePlugin, labelsPlugin, legendPlugin, powerTicksPlugin]
});
</script>
</body></html>
